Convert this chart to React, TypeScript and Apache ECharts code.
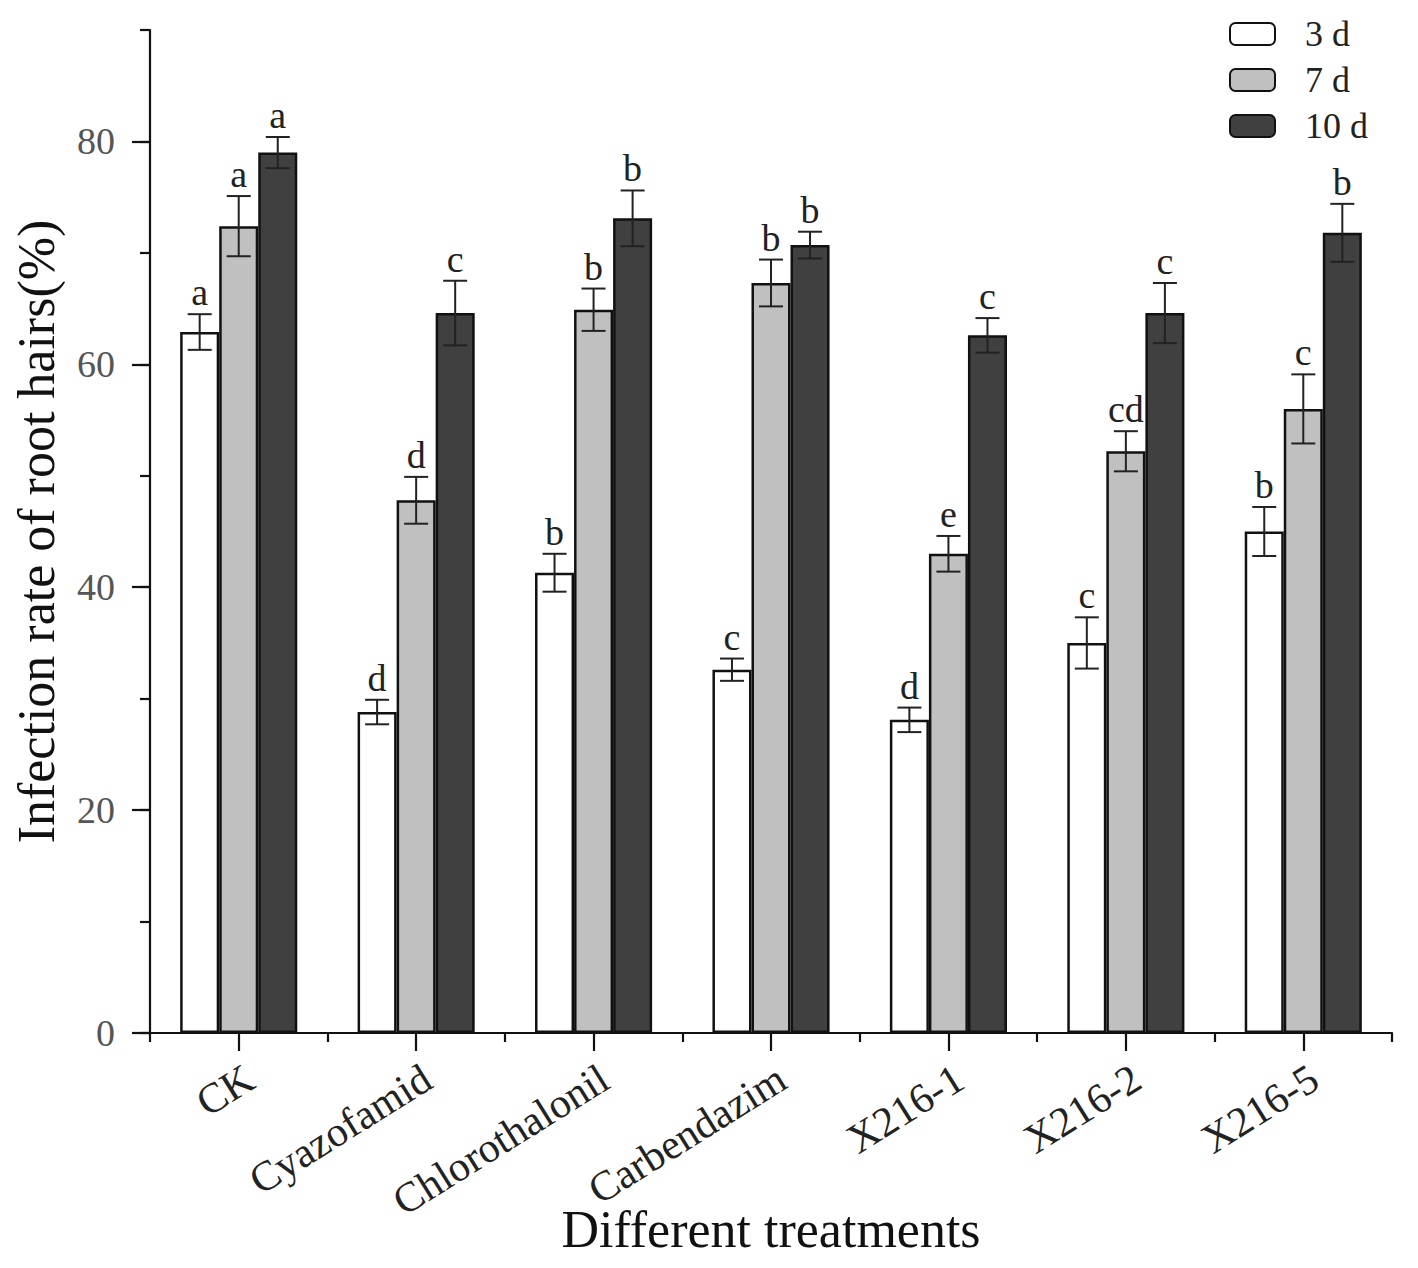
import React, { useEffect, useRef } from "react";
import * as echarts from "echarts";

const categories = ["CK", "Cyazofamid", "Chlorothalonil", "Carbendazim", "X216-1", "X216-2", "X216-5"];
const seriesNames = ["3 d", "7 d", "10 d"];
const mean3d = [62.9, 28.8, 41.3, 32.6, 28.1, 35.0, 45.0];
const err3d = [1.6, 1.1, 1.7, 1.0, 1.1, 2.3, 2.2];
const letters3d = ["a", "d", "b", "c", "d", "c", "b"];
const mean7d = [72.4, 47.8, 64.9, 67.3, 43.0, 52.2, 56.0];
const err7d = [2.7, 2.1, 1.9, 2.1, 1.6, 1.8, 3.1];
const letters7d = ["a", "d", "b", "b", "e", "cd", "c"];
const mean10d = [79.0, 64.6, 73.1, 70.7, 62.6, 64.6, 71.8];
const err10d = [1.4, 2.9, 2.5, 1.2, 1.55, 2.7, 2.6];
const letters10d = ["a", "c", "b", "b", "c", "c", "b"];
const yMajorTicks = [0, 20, 40, 60, 80];

const FONT = '"Liberation Serif", "Times New Roman", serif';
const fills = ["#ffffff", "#c0c0c0", "#404040"];
const BAR_FRAC = 0.22;

export default function App() {
  const ref = useRef<HTMLDivElement>(null);
  useEffect(() => {
    if (!ref.current) return;
    const chart = echarts.init(ref.current, null, { renderer: "svg" });
    const means = [mean3d, mean7d, mean10d];
    const errs = [err3d, err7d, err10d];
    const letters = [letters3d, letters7d, letters10d];
    const lineStyle = { color: "#111", width: 2.2 };

    const makeRender = (si: number, lets: string[]) => (params: any, api: any) => {
      const ci = api.value(0);
      const mean = api.value(1);
      const err = api.value(2);
      const band = api.size([1, 0])[0];
      const bw = band * BAR_FRAC;
      const x = api.coord([ci, mean])[0] + (si - 1) * bw;
      const yHi = api.coord([ci, mean + err])[1];
      const yLo = api.coord([ci, mean - err])[1];
      const cap = 12;
      const st = { stroke: "#222", lineWidth: 2 };
      return {
        type: "group",
        children: [
          { type: "line", shape: { x1: x, y1: yHi, x2: x, y2: yLo }, style: st },
          { type: "line", shape: { x1: x - cap, y1: yHi, x2: x + cap, y2: yHi }, style: st },
          { type: "line", shape: { x1: x - cap, y1: yLo, x2: x + cap, y2: yLo }, style: st },
          {
            type: "text",
            x,
            y: yHi - 3,
            style: {
              text: lets[params.dataIndex],
              fill: "#222",
              fontFamily: FONT,
              fontSize: 38,
              align: "center",
              verticalAlign: "bottom",
            },
          },
        ],
      };
    };

    const barSeries = seriesNames.map((name, si) => ({
      name,
      type: "bar",
      xAxisIndex: 0,
      yAxisIndex: 0,
      data: means[si],
      barWidth: BAR_FRAC * 100 + "%",
      barGap: "0%",
      itemStyle: { color: fills[si], borderColor: "#111", borderWidth: 2.5 },
      z: 2,
    }));
    const errSeries = seriesNames.map((name, si) => ({
      name: "err " + name,
      type: "custom",
      xAxisIndex: 0,
      yAxisIndex: 0,
      data: means[si].map((m, i) => [i, m, errs[si][i]]),
      encode: { x: 0, y: 1 },
      renderItem: makeRender(si, letters[si]),
      z: 5,
    }));

    chart.setOption({
      animation: false,
      backgroundColor: "#ffffff",
      grid: { left: 142, right: 18, top: 22, bottom: 227, containLabel: false, outerBoundsMode: "none" },
      legend: {
        orient: "vertical",
        left: 1216,
        top: 3,
        itemWidth: 45,
        itemHeight: 22,
        itemGap: 10,
        icon: "roundRect",
        data: seriesNames,
        textStyle: { fontFamily: FONT, fontSize: 36, color: "#222", padding: [0, 0, 0, 25] },
      },
      xAxis: [
        {
          type: "category",
          data: categories,
          axisLine: { show: true, lineStyle },
          axisTick: { show: true, alignWithLabel: true, length: 18, lineStyle },
          axisLabel: {
            rotate: 32,
            interval: 0,
            fontFamily: FONT,
            fontSize: 42,
            color: "#222",
            margin: 24,
            align: "right",
            verticalAlign: "top",
          },
          name: "Different treatments",
          nameLocation: "middle",
          nameGap: 170,
          nameMoveOverlap: false,
          nameTextStyle: { fontFamily: FONT, fontSize: 52, color: "#111" },
        },
        {
          type: "category",
          data: categories,
          position: "bottom",
          axisLine: { show: false },
          axisTick: { show: true, interval: 0, length: 9, lineStyle },
          axisLabel: { show: false },
        },
      ],
      yAxis: [
        {
          type: "value",
          min: 0,
          max: 90,
          interval: 10,
          position: "left",
          axisLine: { show: true, lineStyle },
          axisTick: { show: true, length: 10, lineStyle },
          axisLabel: {
            margin: 35,
            fontFamily: FONT,
            fontSize: 38,
            color: "#555",
            formatter: (v: number) => (v % 20 === 0 ? String(v) : ""),
          },
          splitLine: { show: false },
          name: "Infection rate of root hairs(%)",
          nameLocation: "middle",
          nameGap: 88,
          nameTextStyle: { fontFamily: FONT, fontSize: 52, color: "#111" },
        },
        {
          type: "value",
          min: 0,
          max: 90,
          position: "left",
          axisLine: { show: false },
          axisTick: { show: true, length: 18, lineStyle, customValues: yMajorTicks },
          axisLabel: { show: false },
          splitLine: { show: false },
        },
      ],
      series: [...barSeries, ...errSeries],
    });
    return () => chart.dispose();
  }, []);
  return <div ref={ref} style={{ width: 1402, height: 1252 }} />;
}
